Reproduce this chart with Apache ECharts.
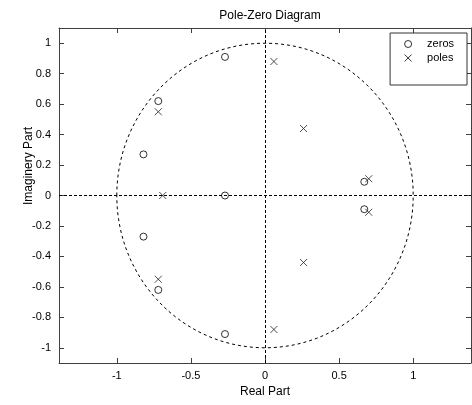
<!DOCTYPE html>
<html>
<head>
<meta charset="utf-8">
<script src="https://cdn.jsdelivr.net/npm/echarts@6/dist/echarts.min.js"></script>
<style>
html,body{margin:0;padding:0;background:#fff;}
#chart{width:472px;height:405px;}
</style>
</head>
<body>
<div id="chart"></div>
<script>
// Data
const zeroRe = [-0.27, -0.27, -0.72, -0.72, -0.82, -0.82, -0.27, 0.67, 0.67];
const zeroIm = [0.91, -0.91, 0.62, -0.62, 0.27, -0.27, 0.00, 0.09, -0.09];
const poleRe = [0.06, 0.06, 0.26, 0.26, 0.70, 0.70, -0.72, -0.72, -0.69];
const poleIm = [0.88, -0.88, 0.44, -0.44, 0.11, -0.11, 0.55, -0.55, 0.00];
const xTicks = [-1, -0.5, 0, 0.5, 1];
const yTicks = [-1, -0.8, -0.6, -0.4, -0.2, 0, 0.2, 0.4, 0.6, 0.8, 1];
const xRange = [-1.39, 1.39];
const yRange = [-1.1, 1.1];
const unitCircle = [[0, 0, 1]]; // center re, center im, radius

const FONT = '"Liberation Sans", Arial, sans-serif';
const AX = '#404040';
const crossPath = 'path://M0,0L10,10M10,0L0,10';

const zeros = zeroRe.map((v, i) => [v, zeroIm[i]]);
const poles = poleRe.map((v, i) => [v, poleIm[i]]);

function xAxisCfg(pos, showLabel) {
  return {
    type: 'value', position: pos, min: xRange[0], max: xRange[1],
    axisLine: { show: true, onZero: false, lineStyle: { color: AX, width: 1 } },
    axisTick: { show: true, inside: true, length: 5, customValues: xTicks, lineStyle: { color: AX } },
    axisLabel: { show: showLabel, customValues: xTicks, margin: 7, color: '#000', fontSize: 11, fontFamily: FONT,
      formatter: v => String(v) },
    splitLine: { show: false },
    name: showLabel ? 'Real Part' : '', nameLocation: 'middle', nameGap: 22,
    nameTextStyle: { color: '#000', fontSize: 12, fontFamily: FONT }
  };
}
function yAxisCfg(pos, showLabel) {
  return {
    type: 'value', position: pos, min: yRange[0], max: yRange[1],
    axisLine: { show: true, onZero: false, lineStyle: { color: AX, width: 1 } },
    axisTick: { show: true, inside: true, length: 5, customValues: yTicks, lineStyle: { color: AX } },
    axisLabel: { show: showLabel, customValues: yTicks, margin: 8, color: '#000', fontSize: 11, fontFamily: FONT,
      formatter: v => String(v) },
    splitLine: { show: false }
  };
}

const chart = echarts.init(document.getElementById('chart'), null, { renderer: 'canvas' });
chart.setOption({
  animation: false,
  backgroundColor: '#fff',
  title: {
    text: 'Pole-Zero Diagram', left: 265, top: 5, textAlign: 'center',
    textStyle: { color: '#000', fontSize: 12, fontWeight: 'normal', fontFamily: FONT }
  },
  graphic: [{
    type: 'text', x: 29, y: 166, rotation: Math.PI / 2, silent: true,
    style: { text: 'Imaginery Part', fill: '#000', font: '12px ' + FONT, align: 'center', verticalAlign: 'middle' }
  }],
  grid: { left: 59, right: 1, top: 28, bottom: 42, containLabel: false },
  xAxis: [xAxisCfg('bottom', true), xAxisCfg('top', false)],
  yAxis: [yAxisCfg('left', true), yAxisCfg('right', false)],
  legend: {
    orient: 'vertical', right: 5, top: 33,
    backgroundColor: '#fff', borderColor: '#333', borderWidth: 1, borderRadius: 0,
    padding: [4, 13, 20, 12], itemGap: 0, itemWidth: 28, itemHeight: 7,
    textStyle: { color: '#000', fontSize: 11, fontFamily: FONT, lineHeight: 14 },
    data: [
      { name: 'zeros', icon: 'circle', itemStyle: { color: 'rgba(0,0,0,0)', borderColor: '#000', borderWidth: 1 } },
      { name: 'poles', icon: crossPath, itemStyle: { color: 'none', borderColor: '#000', borderWidth: 1 } }
    ]
  },
  series: [
    {
      type: 'custom', name: 'unit circle', silent: true, z: 1,
      data: unitCircle,
      renderItem: function (params, api) {
        const c = api.coord([api.value(0), api.value(1)]);
        const r = api.value(2);
        const px = api.coord([api.value(0) + r, api.value(1)]);
        const py = api.coord([api.value(0), api.value(1) + r]);
        return {
          type: 'ellipse',
          shape: { cx: c[0], cy: c[1], rx: px[0] - c[0], ry: c[1] - py[1] },
          style: { fill: 'none', stroke: '#000', lineWidth: 1, lineDash: [3, 3] }
        };
      }
    },
    {
      type: 'scatter', name: 'zeros', data: zeros, z: 3,
      symbol: 'circle', symbolSize: 7,
      itemStyle: { color: 'rgba(0,0,0,0)', borderColor: '#000', borderWidth: 1 },
      markLine: {
        silent: true, symbol: 'none', label: { show: false },
        lineStyle: { type: [3, 2], color: '#000', width: 1 },
        emphasis: { disabled: true },
        data: [{ xAxis: 0 }, { yAxis: 0 }]
      }
    },
    {
      type: 'scatter', name: 'poles', data: poles, z: 3,
      symbol: crossPath, symbolSize: 7,
      itemStyle: { color: 'none', borderColor: '#222', borderWidth: 1 }
    }
  ]
});
</script>
</body>
</html>
